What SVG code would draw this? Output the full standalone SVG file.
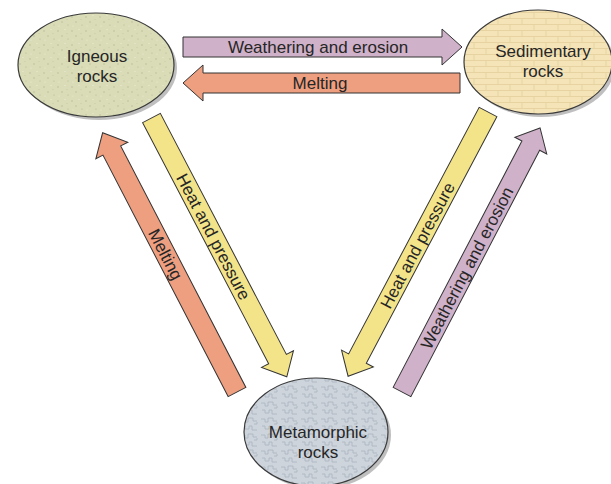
<svg xmlns="http://www.w3.org/2000/svg" width="611" height="484" viewBox="0 0 611 484">
<style>
text{font-family:"Liberation Sans",Arial,sans-serif;font-size:17px;fill:#262626;text-anchor:middle}
.node{stroke:#3a3a3a;stroke-width:1.2}
.shadow{fill:#8a8a8a;opacity:.55}
.arr{stroke:#333;stroke-width:1}
.purple{fill:#cfb1c9}
.orange{fill:#ee9f80}
.yellow{fill:#f3e48a}
</style>
<defs>
<pattern id="speck" width="14" height="14" patternUnits="userSpaceOnUse">
<rect width="14" height="14" fill="#d9dcb6"/>
<circle cx="2" cy="3" r="0.7" fill="#b4b894"/>
<circle cx="9" cy="1.5" r="0.6" fill="#eef0d8"/>
<circle cx="6" cy="8" r="0.7" fill="#b4b894"/>
<circle cx="12" cy="11" r="0.6" fill="#b4b894"/>
<circle cx="3" cy="12" r="0.6" fill="#eef0d8"/>
<circle cx="11" cy="5.5" r="0.5" fill="#c2c6a2"/>
</pattern>
<pattern id="brick" width="24" height="12" patternUnits="userSpaceOnUse">
<rect width="24" height="12" fill="#f4e4b8"/>
<path d="M0 0.5H24M0 6.5H24M6 0.5V6.5M18 6.5V12" stroke="#e3cf9c" stroke-width="0.8" fill="none"/>
</pattern>
<pattern id="meta" width="20" height="16" patternUnits="userSpaceOnUse">
<rect width="20" height="16" fill="#cdd4dc"/>
<path d="M1 3h4v3h3v-4h5v3h4M2 10h3v3h4v-3h3v4h5M14 8h3v-2" stroke="#a9b3bf" stroke-width="0.8" fill="none"/>
</pattern>
</defs>
<g id="igneous">
<ellipse class="shadow" cx="99" cy="68" rx="78" ry="52"/>
<ellipse class="node" cx="96" cy="65" rx="78" ry="52" fill="url(#speck)"/>
<text x="97" y="62">Igneous</text>
<text x="97" y="82">rocks</text>
</g>
<g id="sedimentary">
<ellipse class="shadow" cx="541" cy="65" rx="74" ry="52"/>
<ellipse class="node" cx="538" cy="62" rx="74" ry="52" fill="url(#brick)"/>
<text x="543" y="57">Sedimentary</text>
<text x="543" y="77">rocks</text>
</g>
<g id="metamorphic">
<ellipse class="shadow" cx="319" cy="435" rx="72" ry="54"/>
<ellipse class="node" cx="316" cy="432" rx="72" ry="54" fill="url(#meta)"/>
<text x="318" y="438">Metamorphic</text>
<text x="318" y="458">rocks</text>
</g>
<g id="connectors">
<g transform="translate(183,47)">
<polygon class="arr purple" points="0,-10 259,-10 259,-18 279,0 259,18 259,10 0,10"/>
<text x="135" y="6">Weathering and erosion</text>
</g>
<g transform="translate(460,83) rotate(180)">
<polygon class="arr orange" points="0,-10 257,-10 257,-18 277,0 257,18 257,10 0,10"/>
<text transform="translate(140,0) rotate(180)" y="6">Melting</text>
</g>
<g transform="translate(151.5,118) rotate(62.4)">
<polygon class="arr yellow" points="0,-10 272,-10 272,-18 292,0 272,18 272,10 0,10"/>
<text x="134" y="6">Heat and pressure</text>
</g>
<g transform="translate(237,392) rotate(-117.4)">
<polygon class="arr orange" points="0,-10 272,-10 272,-18 292,0 272,18 272,10 0,10"/>
<text transform="translate(155,0) rotate(180)" y="6">Melting</text>
</g>
<g transform="translate(488,112) rotate(117.9)">
<polygon class="arr yellow" points="0,-10 279,-10 279,-18 299,0 279,18 279,10 0,10"/>
<text transform="translate(151,0) rotate(180)" y="6">Heat and pressure</text>
</g>
<g transform="translate(402,392) rotate(-62.4)">
<polygon class="arr purple" points="0,-10 278,-10 278,-18 298,0 278,18 278,10 0,10"/>
<text x="140" y="6">Weathering and erosion</text>
</g>
</g>
</svg>
